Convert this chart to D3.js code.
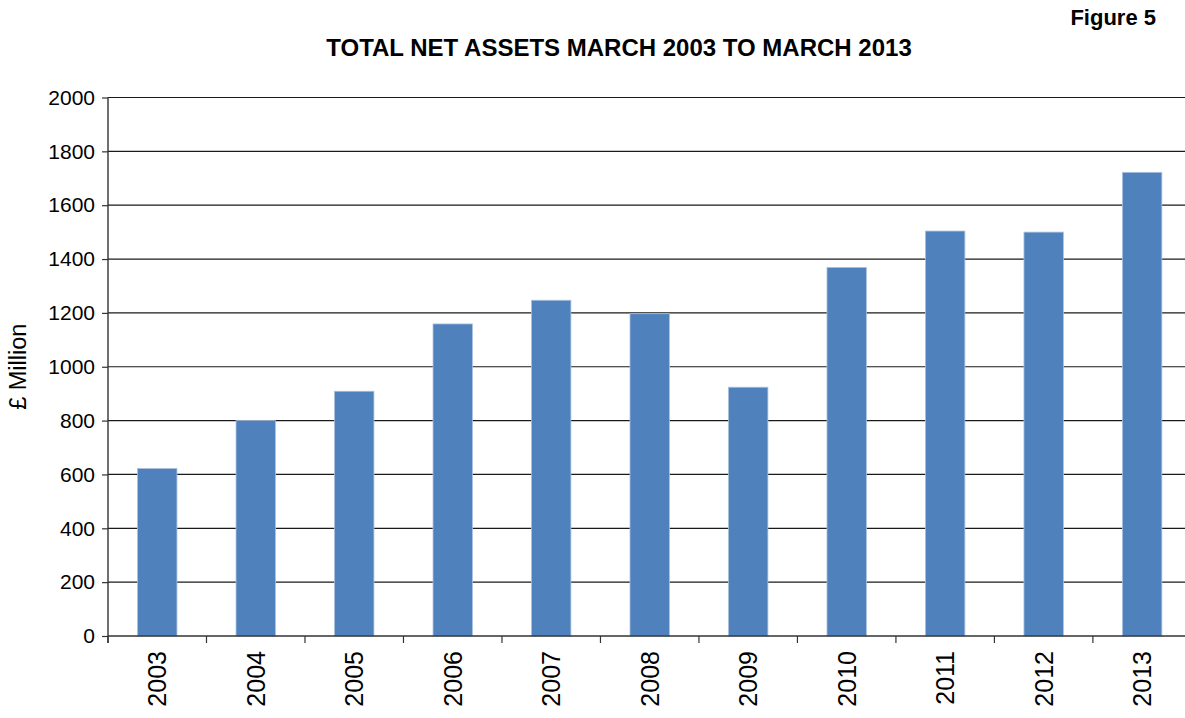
<!DOCTYPE html>
<html><head><meta charset="utf-8">
<script src="https://cdn.jsdelivr.net/npm/d3@7/dist/d3.min.js"></script>
<style>
html,body{margin:0;padding:0;background:#fff;}
svg{display:block;font-family:Arial,"Liberation Sans",sans-serif;}
</style></head>
<body>
<svg id="chart" width="1185" height="718"></svg>
<script>
const years = ["2003","2004","2005","2006","2007","2008","2009","2010","2011","2012","2013"];
const netAssets = [622, 800, 909, 1159, 1247, 1197, 924, 1369, 1504, 1500, 1722];
const yTicks = [0,200,400,600,800,1000,1200,1400,1600,1800,2000];
const titleText = "TOTAL NET ASSETS MARCH 2003 TO MARCH 2013";
const figureText = "Figure 5";
const yAxisTitle = "£ Million";

const svg = d3.select("#chart");
const m = {left:108, top:97.5, right:1191.4, bottom:636};

const x = d3.scaleBand().domain(years).range([m.left, m.right]).paddingInner(0.6).paddingOuter(0.3);
const xb = d3.scaleBand().domain(years).range([m.left, m.right]).padding(0);
const y = d3.scaleLinear().domain([0,2000]).range([m.bottom, m.top]);

// gridlines
svg.append("g").selectAll("line").data(yTicks.filter(d=>d>0)).join("line")
  .attr("x1", m.left).attr("x2", 1185)
  .attr("y1", d=>y(d)).attr("y2", d=>y(d))
  .attr("stroke","#1a1a1a").attr("stroke-width",1.2);

// bars
svg.append("g").selectAll("rect").data(netAssets).join("rect")
  .attr("x",(d,i)=>x(years[i]))
  .attr("width",x.bandwidth())
  .attr("y",d=>y(d))
  .attr("height",d=>y(0)-y(d))
  .attr("fill","#4f81bd")
  .attr("stroke","#a9c0df").attr("stroke-width",0.8);

// y axis
const yAxis = d3.axisLeft(y).tickValues(yTicks).tickSize(6).tickPadding(7).tickFormat(d3.format("d"));
const gy = svg.append("g").attr("transform",`translate(${m.left},0)`).call(yAxis);
gy.select(".domain").remove();
gy.append("line").attr("x1",0).attr("x2",0).attr("y1",m.top).attr("y2",m.bottom+7).attr("stroke","#333").attr("stroke-width",1.4);
gy.selectAll(".tick line").attr("stroke","#333").attr("stroke-width",1.2);
gy.selectAll(".tick text").attr("font-size","21px").attr("fill","#000").attr("font-family","Arial, 'Liberation Sans', sans-serif");

// x axis
const gx = svg.append("g").attr("transform",`translate(0,${m.bottom})`);
gx.append("line").attr("x1",m.left).attr("x2",1185).attr("y1",0).attr("y2",0).attr("stroke","#333").attr("stroke-width",1.4);
gx.selectAll("line.tk").data(years).join("line").attr("class","tk")
  .attr("x1",d=>xb(d)).attr("x2",d=>xb(d)).attr("y1",0).attr("y2",7)
  .attr("stroke","#333").attr("stroke-width",1.2);
gx.selectAll("text").data(years).join("text")
  .attr("transform",d=>`translate(${x(d)+x.bandwidth()/2+9},${15}) rotate(-90)`)
  .attr("text-anchor","end")
  .attr("font-size","25px").attr("fill","#000")
  .text(d=>d);

// titles
svg.append("text").attr("x",619).attr("y",56).attr("text-anchor","middle")
  .attr("font-size","24px").attr("font-weight","bold").text(titleText);
svg.append("text").attr("x",1156).attr("y",25).attr("text-anchor","end")
  .attr("font-size","22px").attr("font-weight","bold").text(figureText);
svg.append("text").attr("transform",`translate(26,${(m.top+m.bottom)/2}) rotate(-90)`)
  .attr("text-anchor","middle").attr("font-size","23.5px").text(yAxisTitle);
</script>
</body></html>
